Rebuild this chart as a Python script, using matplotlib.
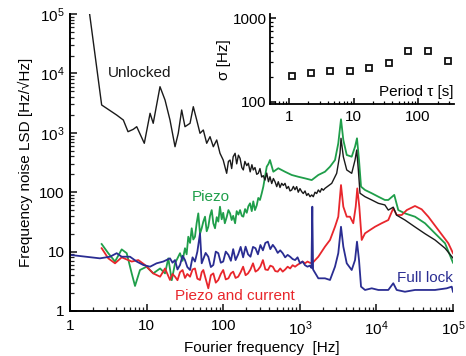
import matplotlib
matplotlib.use("Agg")
import matplotlib.pyplot as plt
from matplotlib.ticker import FixedLocator, FixedFormatter, NullFormatter, LogLocator

plt.rcParams['font.family'] = ['Liberation Sans', 'DejaVu Sans']
plt.rcParams['mathtext.fontset'] = 'custom'
plt.rcParams['mathtext.rm'] = 'Liberation Sans'
plt.rcParams['mathtext.it'] = 'Liberation Sans:italic'

# ---- data ----
unlocked_f = [1.77, 2.59, 4.07, 4.97, 5.72, 6.70, 7.43, 9.33, 11.1, 12.2, 14.96, 17.4, 20.2, 23.5,
              25.9, 28.7, 31.7, 36.9, 40.7, 45.1, 49.8, 55.0, 60.9, 67.3, 74.3, 82.3, 90.8,
              100, 106, 111, 117, 123, 129, 135, 143, 150, 158, 166, 175, 183, 192, 203, 213,
              225, 237, 247, 260, 274, 287, 302, 318, 334, 351, 370, 390, 408, 430, 452, 475,
              500, 524, 552, 580, 610, 641, 675, 710, 745, 784, 825, 865, 910, 955, 1005, 1060,
              1110, 1170, 1230, 1290, 1360, 1430, 1500, 1580, 1660, 1745, 1840, 1930, 2030, 2130,
              2610, 3030, 3350, 3450, 3700, 4100, 4760, 5260, 5530, 5810, 6110,
              7100, 8690, 10600, 12900, 14300, 16600, 18400, 23600, 31900, 43100, 58200, 78700, 100000]
unlocked_v = [1.2e5, 2940, 1990, 1640, 1044, 1145, 1267, 666, 2130, 1445, 5970, 3565, 1642, 583,
              981, 2420, 1267, 1445, 2750, 1642, 981, 1115, 666, 860, 583, 757, 452,
              348, 260, 208, 330, 348, 250, 396, 452, 300, 420, 372, 260, 237, 330, 280, 307,
              220, 290, 237, 260, 200, 208, 250, 180, 190, 160, 210, 150, 182, 140, 170, 150,
              124, 150, 120, 141, 130, 141, 115, 125, 105, 109, 125, 110, 124, 100, 115, 102,
              95, 105, 88, 95, 84, 90, 84, 100, 95, 109, 100, 115, 108, 116,
              141, 208, 452, 808, 396, 237, 208, 348, 513, 237, 96,
              84, 74, 65, 61, 50, 56, 41, 34, 26, 20, 15.7, 11.4, 7.8]

piezo_f = [2.59, 3.16, 3.87, 4.73, 5.50, 6.39, 7.06, 8.20, 10.0, 12.2, 15.0, 17.4, 19.2, 21.3, 23.5,
           27.3, 29.5, 31.7, 33.3, 35.0, 36.9, 38.8, 40.7, 42.8, 45, 47.3, 49.8, 52.4, 55, 57.9,
           60.9, 63.9, 67.3, 70.8, 74.3, 78.2, 82.3, 86.3, 90.8, 95.6, 100, 105, 111, 117, 123,
           129, 135, 143, 150, 158, 166, 175, 183, 193, 203, 213, 224, 236, 247, 260, 274, 287,
           302, 318, 334, 351, 370, 390, 408, 451, 524, 641, 784, 955, 1170, 1430, 1745,
           2130, 2480, 2880, 3180, 3450, 3700, 4100, 4760, 5260, 5580, 5930, 6300, 7100, 8690,
           10600, 12900, 14300, 17100, 19300, 23600, 31900, 43100, 58200, 78700, 100000]
piezo_v = [13.4, 9.4, 6.8, 10.9, 9.4, 4.3, 2.64, 4.9, 5.57, 4.3, 5.2, 4.3, 7.7, 3.3, 6.35,
           9.4, 7.0, 11.4, 9.0, 17.8, 14, 24.7, 16, 17.8, 30, 44, 20, 24.7, 32, 38.7,
           22, 26.2, 40, 50, 30, 24.7, 38, 32, 57, 35, 45, 30, 38, 50, 44,
           34, 40, 30, 48, 42, 50, 40, 38.7, 52, 45, 58, 65, 48, 70, 50, 60, 80,
           74, 95, 124, 180, 269, 300, 348, 221, 253, 221, 195, 182, 171, 160, 195,
           221, 269, 348, 666, 1690, 757, 423, 396, 583, 808, 348, 124, 109, 96,
           84, 74, 74, 90, 50, 44, 38.7, 30, 20.3, 13.8, 6.5]

current_f = [2.59, 3.16, 3.87, 4.73, 6.39, 7.79, 9.53, 12.2, 15.0, 17.4,
             20.2, 21.8, 23.5, 25.3, 27.3, 29.5, 31.7, 34, 36.9, 39.8, 42.8, 46, 49.8, 52.4, 55,
             59, 63.9, 69, 74.3, 80, 86.3, 93, 100, 108, 117, 126, 135, 145, 157, 169, 182, 196,
             211, 227, 245, 264, 284, 306, 330, 355, 383, 412, 444, 478, 515, 555, 598, 644, 694,
             748, 806, 868, 935, 1007, 1085, 1170, 1260, 1350, 1450,
             1745, 2130, 2480, 2880, 3180, 3450, 3700,
             4100, 4520, 4990, 5370, 5630, 5980, 6430, 7100, 8250, 9590, 11700, 14300, 16600,
             18400, 21400, 24900, 31900, 39000, 47600, 64300, 86900, 100000]
current_v = [11.4, 7.7, 6.35, 8.0, 6.8, 7.2, 5.95, 4.3, 3.78, 5.2,
             3.33, 4.2, 3.78, 3.3, 4.5, 4.9, 3.6, 4.2, 3.78, 5.0, 5.2, 3.5, 3.33, 4.5, 4.9,
             3.5, 2.41, 4.0, 4.3, 3.0, 3.33, 4.2, 4.9, 3.4, 3.55, 4.3, 4.6, 3.6, 3.78, 4.5, 5.57, 4.0,
             4.3, 5.0, 6.35, 4.6, 4.9, 5.6, 7.2, 5.0, 4.9, 5.8, 5.57, 4.7, 4.6, 5.2, 4.6, 5.0, 5.57,
             5.2, 5.9, 5.57, 6.0, 6.35, 6.8, 6.35, 6.8, 6.5, 6.35,
             8.2, 12.1, 15.7, 26.2, 38.7, 132, 57,
             38.7, 38.7, 30, 57, 116, 57, 15.7, 20.3, 23.1, 26.2, 30, 34, 53.6,
             41.3, 41.3, 50, 58.6, 51.5, 38.7, 23.1, 13.8, 9.4]

full_f = [1.0, 2.46, 3.33, 4.07, 4.73, 6.07, 7.43, 9.06, 11.1, 13.5, 16.5,
          20.2, 21.8, 23.5, 25.3, 27.3, 29.5, 31.7, 34, 36.9, 39.8, 42.8, 46, 49.8, 52.4, 55,
          59, 63.9, 69, 74.3, 80, 86.3, 93, 100, 108, 117, 126, 135, 145, 157, 169, 182, 196,
          211, 227, 245, 264, 284, 306, 330, 355, 383, 412, 444, 478, 515, 555, 598, 644, 694,
          748, 806, 868, 935, 1007, 1085, 1170, 1260, 1350, 1420, 1456, 1490,
          1745, 2130, 2480, 2880, 3180, 3450, 3700,
          4100, 4760, 5260, 5580, 5930, 6300, 7100, 8690, 10600, 12900, 14300, 16600, 18400,
          23600, 31900, 43100, 58200, 82800, 96200, 100000]
full_v = [8.8, 7.7, 8.2, 9.4, 8.2, 8.2, 6.8, 5.95, 5.57, 6.35, 6.8,
          7.7, 6.5, 7.2, 5.0, 5.95, 8.5, 7.2, 5.5, 4.9, 8.0, 6.8, 10, 20.3, 6.35, 7.5,
          9.5, 8.2, 5.5, 5.95, 10, 9.4, 6.5, 6.8, 10, 8.8, 7, 11, 7.2, 9, 12, 8, 12.1,
          9, 8.2, 12, 11.4, 9, 12.9, 10.5, 14, 14.7, 11, 13, 11.4, 9.5, 10.5, 9.4, 8, 8.8,
          8.2, 7.5, 7.2, 8, 6.35, 6.8, 5.9, 5.57, 5.8, 5.3, 57, 5.0,
          3.55, 3.55, 3.33, 5.57, 9.4, 26.2, 12.1,
          6.35, 4.9, 7.2, 14.7, 7.2, 2.57, 2.26, 2.41, 2.26, 2.26, 2.26, 2.93, 2.26,
          2.11, 2.26, 2.26, 2.26, 2.41, 2.57, 2.11]

tau = [1.1, 2.2, 4.4, 8.8, 17.6, 35, 70, 145, 295]
sigma = [204, 218, 231, 235, 251, 294, 403, 403, 303]

main_ticks = [1, 10, 100, 1e3, 1e4, 1e5]
main_ticklabels = ['1', '10', '100', r'$10^3$', r'$10^4$', r'$10^5$']
main_yticklabels = ['1', '10', '100', r'$10^3$', r'$10^4$', r'$10^5$']
inset_xticks = [1, 10, 100]
inset_xticklabels = ['1', '10', '100']
inset_yticks = [100, 1000]
inset_yticklabels = ['100', '1000']

c_black = '#1a1a1a'
c_green = '#1f9e4a'
c_red = '#e8262c'
c_blue = '#2a2d92'

fig = plt.figure(figsize=(4.66, 3.56), dpi=100)
ax = fig.add_axes([70/466, 1-311/356, (453-70)/466, (311-14)/356])

ax.plot(unlocked_f, unlocked_v, color=c_black, lw=1.0, zorder=3)
ax.plot(piezo_f, piezo_v, color=c_green, lw=1.3, zorder=2)
ax.plot(current_f, current_v, color=c_red, lw=1.3, zorder=2)
ax.plot(full_f, full_v, color=c_blue, lw=1.3, zorder=2.5)

ax.set_xscale('log')
ax.set_yscale('log')
ax.set_xlim(1, 1e5)
ax.set_ylim(1, 1e5)
for s in ['top', 'right']:
    ax.spines[s].set_visible(False)
for s in ['left', 'bottom']:
    ax.spines[s].set_linewidth(1.4)
ax.xaxis.set_major_locator(FixedLocator(main_ticks))
ax.xaxis.set_major_formatter(FixedFormatter(main_ticklabels))
ax.yaxis.set_major_locator(FixedLocator(main_ticks))
ax.yaxis.set_major_formatter(FixedFormatter(main_yticklabels))
ax.xaxis.set_minor_locator(LogLocator(base=10, subs=range(2, 10), numticks=20))
ax.yaxis.set_minor_locator(LogLocator(base=10, subs=range(2, 10), numticks=20))
ax.xaxis.set_minor_formatter(NullFormatter())
ax.yaxis.set_minor_formatter(NullFormatter())
ax.tick_params(which='both', direction='in', labelsize=11, color='#222222')
ax.tick_params(which='major', length=5, width=1.2, pad=6)
ax.tick_params(which='minor', length=2.8, width=0.9)
ax.tick_params(axis='y', which='major', pad=4)
ax.set_xlabel('Fourier frequency  [Hz]', fontsize=11, labelpad=2)
ax.set_ylabel('Frequency noise LSD [Hz/\u221aHz]', fontsize=11, labelpad=4)

ax.text(3.1, 1.0e4, 'Unlocked', color=c_black, fontsize=11, va='center', ha='left')
ax.text(39, 83, 'Piezo', color=c_green, fontsize=11, va='center', ha='left')
ax.text(23.5, 1.78, 'Piezo and current', color=c_red, fontsize=11, va='center', ha='left')
ax.text(1e5, 3.6, 'Full lock', color=c_blue, fontsize=11, va='center', ha='right')

# inset
ax2 = fig.add_axes([269.5/466, 1-104.3/356, (454-269.5)/466, (104.3-14)/356])
ax2.patch.set_alpha(0)
ax2.plot(tau, sigma, linestyle='none', marker='s', markersize=5, markerfacecolor='white',
         markeredgecolor='#111111', markeredgewidth=1.3)
ax2.set_xscale('log')
ax2.set_yscale('log')
ax2.set_xlim(0.5, 360)
ax2.set_ylim(93, 1120)
for s in ['top', 'right']:
    ax2.spines[s].set_visible(False)
for s in ['left', 'bottom']:
    ax2.spines[s].set_linewidth(1.3)
ax2.xaxis.set_major_locator(FixedLocator(inset_xticks))
ax2.xaxis.set_major_formatter(FixedFormatter(inset_xticklabels))
ax2.yaxis.set_major_locator(FixedLocator(inset_yticks))
ax2.yaxis.set_major_formatter(FixedFormatter(inset_yticklabels))
ax2.xaxis.set_minor_locator(LogLocator(base=10, subs=range(2, 10), numticks=20))
ax2.yaxis.set_minor_locator(LogLocator(base=10, subs=range(2, 10), numticks=20))
ax2.xaxis.set_minor_formatter(NullFormatter())
ax2.yaxis.set_minor_formatter(NullFormatter())
ax2.tick_params(which='both', direction='in', labelsize=11)
ax2.tick_params(which='major', length=4.5, width=1.1, pad=4)
ax2.tick_params(which='minor', length=2.5, width=0.9)
ax2.tick_params(axis='y', which='major', pad=2)
ax2.set_ylabel('\u03c3 [Hz]', fontsize=11, labelpad=1)
ax2.text(1.0, 0.14, 'Period \u03c4 [s]', transform=ax2.transAxes, fontsize=11, ha='right', va='center')

fig.savefig('out.png', dpi=100)
